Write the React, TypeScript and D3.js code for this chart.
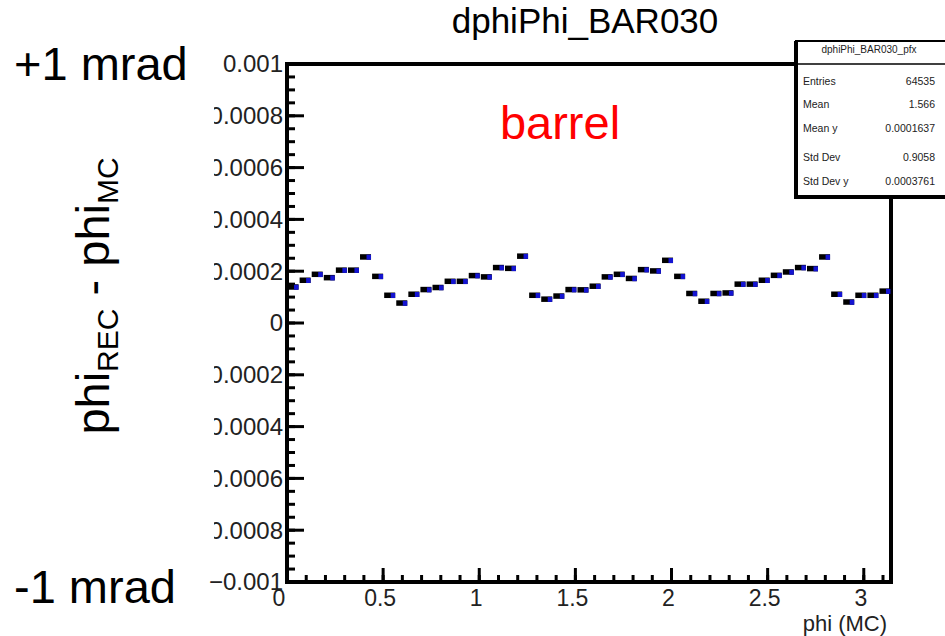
import * as d3 from 'd3'

// profile dphi vs phi(MC), barrel, 50 bins over [0, pi]
const phiDomain = [0, Math.PI]
const nBins = 50
const dphiMean = [
  0.000140, 0.000166, 0.000189, 0.000176, 0.000205, 0.000205, 0.000256, 0.000181, 0.000108, 0.000078,
  0.000112, 0.000130, 0.000138, 0.000162, 0.000162, 0.000184, 0.000179, 0.000215, 0.000212, 0.000259,
  0.000108, 0.000093, 0.000105, 0.000130, 0.000129, 0.000143, 0.000179, 0.000189, 0.000173, 0.000207,
  0.000202, 0.000243, 0.000181, 0.000115, 0.000085, 0.000115, 0.000117, 0.000151, 0.000151, 0.000166,
  0.000185, 0.000198, 0.000215, 0.000211, 0.000256, 0.000112, 0.000082, 0.000108, 0.000108, 0.000124,
]
const yDomain = [-0.001, 0.001]
const xMajorTicks = [0, 0.5, 1, 1.5, 2, 2.5, 3]
const statsLabels = ['Entries', 'Mean', 'Mean y', 'Std Dev', 'Std Dev y']
const statsValues = ['64535', '1.566', '0.0001637', '0.9058', '0.0003761']

const W = 945
const H = 636
const FONT = '"Liberation Sans", Arial, Helvetica, sans-serif'

export default function App() {
  const left = 287
  const right = 891
  const top = 64
  const bottom = 582

  const x = d3.scaleLinear().domain(phiDomain).range([left, right])
  const y = d3.scaleLinear().domain(yDomain).range([bottom, top])

  const yMajor = y.ticks(10)
  const yMinor = y.ticks(50)
  const xMinor = x.ticks(30)
  const fmt = d3.format('~g')

  const binW = (phiDomain[1] - phiDomain[0]) / nBins

  const statsY = [81, 104, 128, 157, 181]

  return (
    <div style={{ position: 'fixed', left: 0, top: 0 }}>
      <svg width={W} height={H} style={{ display: 'block', background: '#fff' }} fontFamily={FONT}>
        {/* title */}
        <text x={585} y={33} fontSize={35} textAnchor="middle" fill="#000">dphiPhi_BAR030</text>

        {/* y tick labels */}
        {yMajor.map((t, i) => (
          <text key={'yl' + i} x={283} y={y(t)} dy="0.35em" fontSize={24} textAnchor="end" fill="#222">
            {fmt(t)}
          </text>
        ))}
        {/* slide covers the left part of labels */}
        <rect x={0} y={85} width={214} height={485} fill="#fff" />

        {/* x tick labels */}
        {xMajorTicks.map((t, i) => (
          <text key={'xl' + i} x={t === 0 ? x(t) - 8 : x(t) - 3} y={606} fontSize={23} textAnchor="middle" fill="#222">
            {fmt(t)}
          </text>
        ))}
        <text x={887} y={631} fontSize={22} textAnchor="end" fill="#222">phi (MC)</text>

        {/* ticks */}
        {yMinor.map((t, i) => (
          <line key={'ym' + i} x1={left} x2={left + 8} y1={y(t)} y2={y(t)} stroke="#000" strokeWidth={3} />
        ))}
        {yMajor.map((t, i) => (
          <line key={'yM' + i} x1={left} x2={left + 17} y1={y(t)} y2={y(t)} stroke="#000" strokeWidth={3} />
        ))}
        {xMinor.map((t, i) => (
          <line key={'xm' + i} x1={x(t)} x2={x(t)} y1={bottom} y2={bottom - 7} stroke="#000" strokeWidth={3} />
        ))}
        {xMajorTicks.map((t, i) => (
          <line key={'xM' + i} x1={x(t)} x2={x(t)} y1={bottom} y2={bottom - 14} stroke="#000" strokeWidth={3} />
        ))}

        {/* frame */}
        <rect x={left} y={top} width={right - left} height={bottom - top} fill="none" stroke="#000" strokeWidth={4} />

        {/* profile points */}
        {dphiMean.map((v, i) => {
          const cx = x(phiDomain[0] + (i + 0.5) * binW)
          const cy = y(v)
          return (
            <g key={'p' + i}>
              <rect x={cx - 5.5} y={cy - 2.5} width={11} height={5.5} fill="#000" />
              <rect x={cx + 1} y={cy - 2} width={4.5} height={5} fill="#1414d2" />
            </g>
          )
        })}

        {/* stats box */}
        <rect x={796} y={41} width={150} height={155} fill="#fff" stroke="#000" strokeWidth={2} />
        <line x1={796} x2={796} y1={41} y2={198} stroke="#000" strokeWidth={4} />
        <line x1={794} x2={946} y1={197} y2={197} stroke="#000" strokeWidth={4} />
        <line x1={796} x2={946} y1={64} y2={64} stroke="#000" strokeWidth={1.5} />
        <text x={869} y={53} fontSize={10} textAnchor="middle" fill="#222">dphiPhi_BAR030_pfx</text>
        {statsLabels.map((s, i) => (
          <g key={'st' + i}>
            <text x={803} y={statsY[i]} dy="0.35em" fontSize={10.5} fill="#222">{s}</text>
            <text x={935} y={statsY[i]} dy="0.35em" fontSize={10.5} textAnchor="end" fill="#222">{statsValues[i]}</text>
          </g>
        ))}

        {/* slide annotations */}
        <text x={560} y={139} fontSize={47} textAnchor="middle" fill="#ff0000">barrel</text>
        <text x={14} y={80} fontSize={47} fill="#000">+1 mrad</text>
        <text x={14} y={603} fontSize={47} fill="#000">-1 mrad</text>
        <text transform="translate(109,296) rotate(-90)" fontSize={47} textAnchor="middle" fill="#000">
          phi
          <tspan fontSize={30} dy={9}>REC</tspan>
          <tspan dy={-9}> - phi</tspan>
          <tspan fontSize={30} dy={9}>MC</tspan>
        </text>
      </svg>
    </div>
  )
}
